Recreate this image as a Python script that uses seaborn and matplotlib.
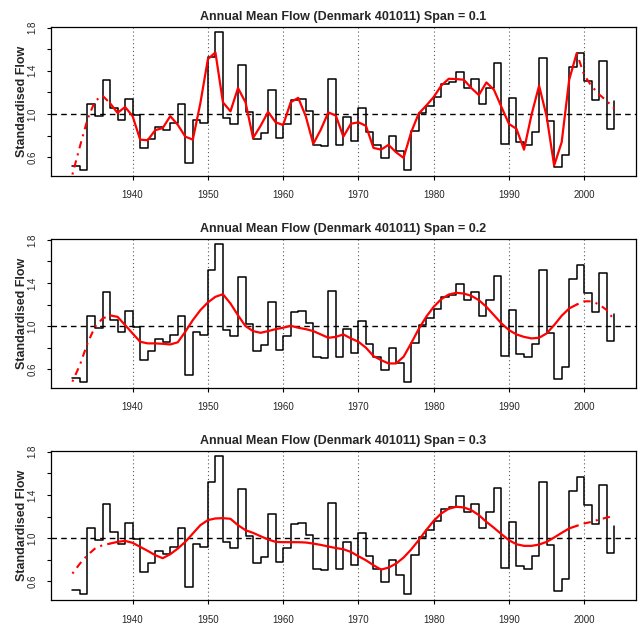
import numpy as np
import pandas as pd
import matplotlib
matplotlib.use("Agg")
import matplotlib.pyplot as plt
import seaborn as sns

years = list(range(1932, 2005))

flow = [0.517, 0.48, 1.092, 0.985, 1.314, 1.055, 0.945, 1.138, 0.99, 0.689,
        0.772, 0.877, 0.852, 0.92, 1.092, 0.551, 0.945, 0.914, 1.523, 1.757,
        0.963, 0.908, 1.458, 1.022, 0.772, 0.828, 1.222, 0.778, 0.905, 1.132,
        1.142, 1.028, 0.717, 0.702, 1.326, 0.714, 0.969, 0.751, 1.052, 0.831,
        0.711, 0.594, 0.794, 0.658, 0.48, 0.84, 1.009, 1.071, 1.16, 1.274,
        1.292, 1.388, 1.24, 1.32, 1.092, 1.24, 1.468, 0.72, 1.151, 0.745,
        0.717, 0.831, 1.517, 0.938, 0.514, 0.625, 1.434, 1.566, 1.308, 1.132,
        1.495, 0.862, 1.117]

smooth_01 = [0.44, 0.70, 0.95, 1.12, 1.17, 1.10, 1.01, 1.065, 0.98, 0.763,
             0.757, 0.85, 0.87, 0.98, 0.90, 0.79, 0.763, 1.10, 1.508, 1.57,
             1.108, 1.025, 1.24, 1.108, 0.778, 0.89, 1.02, 0.923, 0.898, 1.108,
             1.15, 0.98, 0.723, 0.855, 1.015, 0.985, 0.79, 0.91, 0.923, 0.89,
             0.686, 0.67, 0.714, 0.646, 0.594, 0.83, 1.003, 1.077, 1.157, 1.262,
             1.326, 1.323, 1.317, 1.24, 1.175, 1.292, 1.225, 1.065, 0.908, 0.862,
             0.67, 0.994, 1.262, 0.98, 0.523, 0.738, 1.317, 1.563, 1.36, 1.255,
             1.18, 1.12, 1.05]

smooth_02 = [0.485, 0.64, 0.84, 0.994, 1.07, 1.10, 1.086, 1.01, 0.932, 0.855,
             0.84, 0.84, 0.836, 0.83, 0.85, 0.948, 1.056, 1.148, 1.22, 1.272,
             1.296, 1.21, 1.10, 1.00, 0.954, 0.938, 0.954, 0.972, 0.985, 1.003,
             0.985, 0.972, 0.954, 0.923, 0.892, 0.90, 0.923, 0.886, 0.855, 0.80,
             0.722, 0.685, 0.654, 0.654, 0.716, 0.84, 0.972, 1.086, 1.179, 1.25,
             1.293, 1.309, 1.302, 1.281, 1.241, 1.179, 1.102, 1.025, 0.963, 0.923,
             0.90, 0.886, 0.892, 0.932, 1.009, 1.096, 1.164, 1.20, 1.23, 1.23,
             1.20, 1.148, 1.056]

smooth_03 = [0.673, 0.765, 0.843, 0.904, 0.935, 0.95, 0.966, 0.975, 0.957, 0.92,
             0.883, 0.843, 0.815, 0.852, 0.904, 0.966, 1.043, 1.12, 1.167, 1.182,
             1.185, 1.179, 1.12, 1.074, 1.049, 1.018, 0.988, 0.966, 0.963, 0.963,
             0.963, 0.96, 0.95, 0.938, 0.923, 0.909, 0.898, 0.873, 0.833, 0.796,
             0.75, 0.71, 0.728, 0.765, 0.821, 0.895, 0.981, 1.074, 1.16, 1.228,
             1.272, 1.29, 1.284, 1.259, 1.213, 1.151, 1.096, 1.037, 0.981, 0.944,
             0.929, 0.929, 0.941, 0.966, 1.006, 1.049, 1.09, 1.114, 1.136, 1.151,
             1.173, 1.19, 1.207]

spans = ["0.1", "0.2", "0.3"]
smooths = [smooth_01, smooth_02, smooth_03]
solid_start, solid_end = 1937, 1999

xticks = [1940, 1950, 1960, 1970, 1980, 1990, 2000]
yticks = [0.6, 0.8, 1.0, 1.2, 1.4, 1.6, 1.8]
ytick_labels = ["0.6", "", "1.0", "", "1.4", "", "1.8"]

sns.set_theme(style="ticks")
plt.rcParams["font.family"] = ["Liberation Sans", "DejaVu Sans"]

fig = plt.figure(figsize=(6.38, 6.25), dpi=100)
positions = [
    [0.0795, 0.7189, 0.9174, 0.2384],
    [0.0795, 0.3797, 0.9174, 0.2379],
    [0.0795, 0.0400, 0.9174, 0.2389],
]

for pos, span, sm in zip(positions, spans, smooths):
    ax = fig.add_axes(pos)
    df = pd.DataFrame({"year": years, "flow": flow, "smooth": sm})
    for xv in xticks:
        ax.axvline(xv, color="0.35", linestyle=(0, (1, 2.5)), linewidth=0.8, zorder=1)
    ax.axhline(1.0, color="black", linestyle=(0, (4, 3)), linewidth=1.0, zorder=1)
    sns.lineplot(data=df, x="year", y="flow", ax=ax, color="black",
                 drawstyle="steps-post", linewidth=1.1, zorder=2)
    mid = df[(df.year >= solid_start) & (df.year <= solid_end)]
    left = df[df.year <= solid_start]
    right = df[df.year >= solid_end]
    sns.lineplot(data=mid, x="year", y="smooth", ax=ax, color="#ff0000",
                 linewidth=1.6, zorder=3)
    for part in (left, right):
        sns.lineplot(data=part, x="year", y="smooth", ax=ax, color="#ff0000",
                     linewidth=1.5, linestyle=(0, (1, 2.5, 3.5, 2.5)), zorder=3)
    ax.set_xlim(1929.12, 2006.88)
    ax.set_ylim(0.429, 1.808)
    ax.set_xticks(xticks)
    ax.set_xticklabels([str(x) for x in xticks], fontsize=7)
    ax.set_yticks(yticks)
    ax.set_yticklabels(ytick_labels, fontsize=7, rotation=90, va="center")
    ax.tick_params(axis="x", direction="out", length=3, width=0.8,
                   color="black", pad=7.5)
    ax.tick_params(axis="y", direction="out", length=3, width=0.8,
                   color="black", pad=6.5)
    ax.set_xlabel("")
    ax.set_ylabel("Standardised Flow", fontsize=9, fontweight="bold", labelpad=-0.5)
    ax.set_title(f"Annual Mean Flow (Denmark 401011) Span = {span}",
                 fontsize=9, fontweight="bold", pad=5)
    for s in ax.spines.values():
        s.set_visible(True)
        s.set_color("black")
        s.set_linewidth(0.9)
    ax.grid(False)

fig.savefig("out.png", dpi=100)
